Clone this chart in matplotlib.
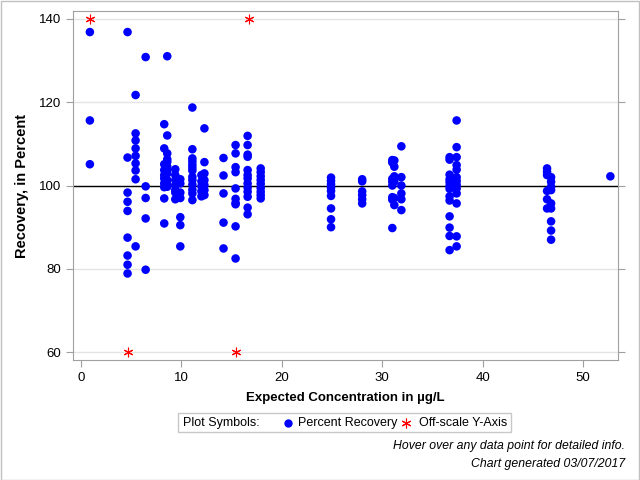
import matplotlib
matplotlib.use("Agg")
import matplotlib.pyplot as plt
from matplotlib.lines import Line2D
from matplotlib.patches import Rectangle

plt.rcParams['font.family'] = ['Liberation Sans', 'DejaVu Sans']

# concentrations (ug/L) of each column of points, and the recoveries read in that column
conc_groups = [0.9, 4.65, 5.45, 6.45, 8.3, 8.6, 9.4, 9.9, 11.1, 12.0, 12.3, 14.2,
               15.4, 16.6, 17.9, 24.9, 28.0, 31.0, 31.2, 31.9, 36.7, 37.4, 46.4, 46.8, 52.7]
recovery_groups = [
    [136.8, 115.6, 105.1],
    [136.8, 106.7, 98.3, 96.1, 93.9, 87.5, 83.2, 81.0, 78.9],
    [121.7, 112.5, 110.8, 108.9, 107.1, 105.3, 103.6, 101.5, 85.4],
    [130.8, 99.8, 97.0, 92.1, 79.8],
    [114.7, 108.9, 105.1, 103.7, 102.5, 101.7, 100.5, 99.6, 96.9, 90.9],
    [131.0, 112.0, 107.7, 106.3, 105.7, 104.5, 103.6, 102.9, 101.3, 100.2, 99.7],
    [103.9, 102.5, 101.3, 100.1, 98.9, 98.3, 96.7],
    [101.5, 100.5, 98.3, 97.0, 92.4, 90.5, 85.4],
    [118.7, 108.7, 106.5, 105.8, 105.0, 104.3, 103.6, 102.1, 101.3, 100.2, 99.0, 98.1, 96.5],
    [102.5, 101.0, 99.8, 98.6, 97.4],
    [113.7, 105.6, 102.9, 101.3, 100.1, 98.9, 97.7],
    [106.6, 102.4, 98.1, 91.1, 84.9],
    [109.7, 107.7, 104.4, 103.2, 99.3, 96.8, 95.8, 95.5, 90.2, 82.5],
    [111.9, 109.7, 107.4, 106.9, 103.7, 102.5, 101.7, 100.5, 99.5, 98.5, 97.3, 94.7, 93.1],
    [104.1, 103.2, 102.2, 101.3, 100.4, 99.4, 98.5, 97.7, 96.9],
    [101.9, 101.1, 100.3, 99.5, 98.7, 97.5, 94.5, 91.9, 90.0],
    [101.5, 101.0, 98.6, 97.7, 96.7, 95.7],
    [106.1, 105.5, 101.6, 100.9, 100.0, 97.2, 96.6, 89.8],
    [106.0, 104.5, 102.2, 101.0, 97.0, 95.3],
    [109.4, 102.0, 100.0, 98.1, 96.7, 94.1],
    [106.8, 106.2, 102.6, 101.5, 100.8, 99.9, 99.2, 97.4, 96.4, 92.6, 89.9, 87.9, 84.5],
    [115.6, 109.2, 106.8, 104.9, 103.8, 102.0, 101.1, 100.2, 99.3, 98.1, 95.7, 87.8, 85.4],
    [104.1, 103.3, 102.5, 98.7, 96.7, 94.5],
    [102.0, 100.9, 99.7, 98.9, 95.7, 94.5, 91.4, 89.2, 87.0],
    [102.2],
]

# points outside the y range, drawn on the axis limit
offscale_x = [0.9, 16.7, 4.65, 15.4]
offscale_y = [140, 140, 60, 60]

conc = []
recovery = []
for c, vals in zip(conc_groups, recovery_groups):
    for v in vals:
        conc.append(c)
        recovery.append(v)

blue = '#0000ff'
red = '#ff0000'
gray = '#a0a0a0'

fig = plt.figure(figsize=(6.4, 4.8), dpi=100)
ax = fig.add_axes([73 / 640, 1 - 360 / 480, (618 - 73) / 640, (360 - 11) / 480])

ax.axhline(100, color='black', lw=1, zorder=2)
ax.scatter(conc, recovery, s=38, color=blue, edgecolors='none', zorder=3)
ax.scatter(offscale_x, offscale_y, s=40, marker=(6, 2, 0), color=red, linewidths=0.8, zorder=3)

ax.set_xlim(-0.78, 53.46)
ax.set_ylim(58.15, 141.85)
ax.set_xticks([0, 10, 20, 30, 40, 50])
ax.set_yticks([60, 80, 100, 120, 140])
ax.grid(axis='y', color='#e4e4e4', lw=1)
ax.set_axisbelow(True)
for s in ax.spines.values():
    s.set_color(gray)
ax.tick_params(color=gray, labelsize=9.5, length=5, right=True, labelcolor='#000000')

ax.set_xlabel('Expected Concentration in µg/L', fontsize=9.5, fontweight='bold', labelpad=6)
ax.set_ylabel('Recovery, in Percent', fontsize=10.5, fontweight='bold', labelpad=7)

# legend box drawn below the axes
fig.add_artist(Rectangle((178 / 640, 1 - 432 / 480), (511 - 178) / 640, 19 / 480,
                         transform=fig.transFigure, fill=False, edgecolor='#c8c8c8', lw=1))
fig.text(183 / 640, 1 - 423 / 480, 'Plot Symbols:', fontsize=9, va='center')
fig.add_artist(Line2D([288 / 640], [1 - 423 / 480], transform=fig.transFigure,
                      marker='o', markersize=6, color=blue, markeredgewidth=0))
fig.text(298 / 640, 1 - 423 / 480, 'Percent Recovery', fontsize=9, va='center')
fig.add_artist(Line2D([406 / 640], [1 - 423 / 480], transform=fig.transFigure,
                      marker=(6, 2, 0), markersize=7, color=red, markeredgewidth=0.8))
fig.text(419 / 640, 1 - 423 / 480, 'Off-scale Y-Axis', fontsize=9, va='center')

fig.text(625 / 640, 1 - 446 / 480, 'Hover over any data point for detailed info.',
         fontsize=8.8, style='italic', ha='right', va='center')
fig.text(625 / 640, 1 - 464 / 480, 'Chart generated 03/07/2017',
         fontsize=8.8, style='italic', ha='right', va='center')

fig.add_artist(Rectangle((0.5 / 640, 0.5 / 480), 638.5 / 640, 478.5 / 480,
                         transform=fig.transFigure, fill=False, edgecolor='#c0c0c0', lw=1))

fig.savefig('out.png', dpi=100)
